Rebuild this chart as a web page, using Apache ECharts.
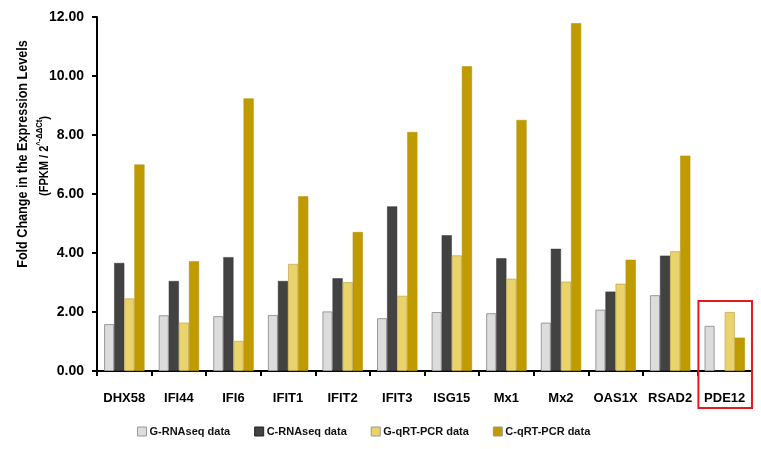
<!DOCTYPE html>
<html><head><meta charset="utf-8">
<script src="https://cdn.jsdelivr.net/npm/echarts@6/dist/echarts.min.js"></script>
<style>html,body{margin:0;padding:0;background:#fff}#c{width:761px;height:449px}</style>
</head><body><div id="c"></div>
<script>
const categories = ['DHX58','IFI44','IFI6','IFIT1','IFIT2','IFIT3','ISG15','Mx1','Mx2','OAS1X','RSAD2','PDE12'];
const gRNAseq = [1.59,1.89,1.86,1.90,2.02,1.79,2.00,1.96,1.64,2.08,2.57,1.53];
const cRNAseq = [3.66,3.05,3.86,3.05,3.14,5.58,4.60,3.82,4.14,2.69,3.91,0];
const gQPCR   = [2.46,1.64,1.02,3.63,3.01,2.55,3.92,3.13,3.03,2.96,4.06,2.00];
const cQPCR   = [7.00,3.72,9.24,5.92,4.71,8.10,10.33,8.51,11.79,3.77,7.30,1.13];
const seriesNames = ['G-RNAseq data','C-RNAseq data','G-qRT-PCR data','C-qRT-PCR data'];
const yTicks = [0,2,4,6,8,10,12];

const FONT = "'Liberation Sans',Arial,sans-serif";
const chart = echarts.init(document.getElementById('c'), null, {renderer:'canvas'});
const styles = [
  {color:'#dcdcdc', borderColor:'#9a9a9a', borderWidth:1},
  {color:'#424242', borderColor:'#333', borderWidth:0.5},
  {color:'#ebd36c', borderColor:'#c4ad55', borderWidth:0.8},
  {color:'#c09b00', borderColor:'#b08e00', borderWidth:0.5}
];
const datas = [gRNAseq,cRNAseq,gQPCR,cQPCR];
chart.setOption({
  animation:false,
  backgroundColor:'#fff',
  grid:{left:97,right:9,top:17,bottom:78,containLabel:false},
  legend:{
    bottom:7, left:132, itemWidth:9, itemHeight:9, itemGap:24,
    icon:'rect',
    textStyle:{fontFamily:FONT,fontWeight:'bold',fontSize:11,color:'#111',padding:[0,0,0,-2]},
    data:seriesNames.map((n,i)=>({name:n,itemStyle:{color:styles[i].color,borderColor:i===1?'#222':'#999',borderWidth:1}}))
  },
  xAxis:{
    type:'category', data:categories,
    axisLine:{lineStyle:{color:'#000',width:2}},
    axisTick:{show:true,length:5,inside:false,lineStyle:{color:'#000',width:2}},
    axisLabel:{fontFamily:FONT,fontWeight:'bold',fontSize:13,color:'#000',margin:21,interval:0}
  },
  yAxis:{
    type:'value', min:yTicks[0], max:yTicks[yTicks.length-1], interval:2,
    axisLine:{show:true,lineStyle:{color:'#000',width:2}},
    axisTick:{show:true,length:5,lineStyle:{color:'#000',width:2}},
    splitLine:{show:false},
    axisLabel:{fontFamily:FONT,fontWeight:'bold',fontSize:14,color:'#000',margin:13,formatter:v=>v.toFixed(2)}
  },
  series:datas.map((d,i)=>({
    name:seriesNames[i], type:'bar', data:d, barGap:'0%', barCategoryGap:'26%',
    itemStyle:styles[i]
  }))
});

// annotations
const p0 = chart.convertToPixel({gridIndex:0}, ['PDE12',0]);
const pPrev = chart.convertToPixel({gridIndex:0}, ['RSAD2',0]);
const band = p0[0]-pPrev[0];
const pTop = chart.convertToPixel({gridIndex:0}, ['PDE12',2.37]);
chart.setOption({
  graphic:[
    {type:'rect', shape:{x:p0[0]-band/2+1, y:pTop[1], width:band-1, height:p0[1]+37-pTop[1]},
     style:{fill:'none', stroke:'#e8191c', lineWidth:2}, z:100},
    {type:'text', x:23, y:154, rotation:Math.PI/2, scaleX:0.84,
     style:{text:'Fold Change in the Expression Levels', fontFamily:FONT, fontWeight:'bold', fontSize:15, fill:'#000', align:'center', verticalAlign:'middle'}},
    {type:'text', x:43, y:156, rotation:Math.PI/2, scaleX:0.85,
     style:{text:'{a|(FPKM / 2}{s|^-ΔΔCt}{a|)}', fontFamily:FONT, fontWeight:'bold', fontSize:13, fill:'#000', align:'center', verticalAlign:'middle',
       rich:{a:{fontFamily:FONT,fontWeight:'bold',fontSize:13,fill:'#000',verticalAlign:'bottom',lineHeight:15},
             s:{fontFamily:FONT,fontWeight:'bold',fontSize:9,fill:'#000',verticalAlign:'top',lineHeight:15,padding:[0,0,6,0]}}}}
  ]
});
</script></body></html>
